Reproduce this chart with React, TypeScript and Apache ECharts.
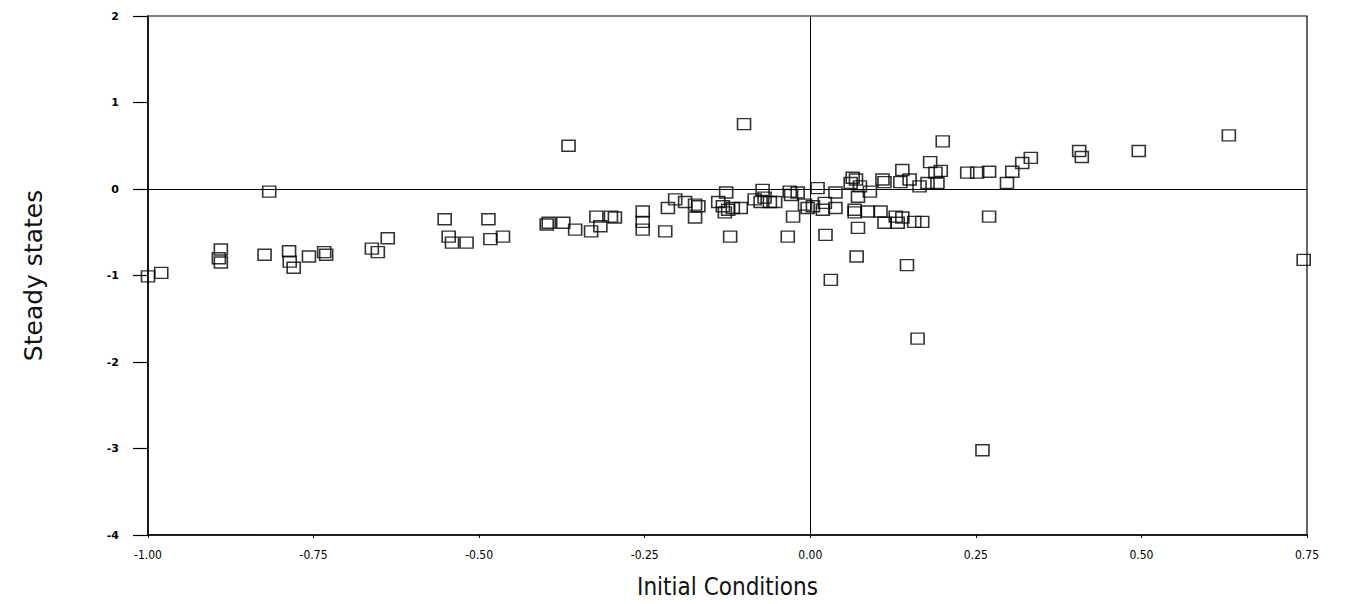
import React, { useEffect, useRef } from "react";
import * as echarts from "echarts";

const xTicks = [-1.0, -0.75, -0.5, -0.25, 0.0, 0.25, 0.5, 0.75];
const yTicks = [-4, -3, -2, -1, 0, 1, 2];

const initialConditions = [
  -1.0, -0.98, -0.89, -0.893, -0.89, -0.817, -0.824, -0.787, -0.786, -0.78,
  -0.757, -0.734, -0.731, -0.662, -0.653, -0.638, -0.552, -0.546, -0.541, -0.519,
  -0.486, -0.483, -0.464, -0.365, -0.398, -0.395, -0.373, -0.355, -0.331, -0.323,
  -0.317, -0.301, -0.295, -0.253, -0.253, -0.253, -0.219, -0.215, -0.204, -0.189,
  -0.174, -0.174, -0.1, -0.169, -0.127, -0.139, -0.132, -0.124, -0.129, -0.117,
  -0.105, -0.084, -0.072, -0.069, -0.075, -0.061, -0.053, -0.031, -0.029, -0.019,
  -0.026, -0.008, -0.004, 0.004, 0.011, -0.121, -0.034, 0.023, 0.022, 0.019,
  0.038, 0.038, 0.064, 0.061, 0.069, 0.075, 0.09, 0.072, 0.109, 0.112,
  0.139, 0.136, 0.15, 0.165, 0.177, 0.181, 0.189, 0.192, 0.2, 0.197,
  0.067, 0.067, 0.087, 0.106, 0.112, 0.129, 0.139, 0.132, 0.157, 0.169,
  0.072, 0.07, 0.031, 0.146, 0.162, 0.26, 0.237, 0.252, 0.27, 0.27,
  0.297, 0.305, 0.32, 0.333, 0.406, 0.41, 0.496, 0.632, 0.745,
];

const steadyStates = [
  -1.01, -0.97, -0.7, -0.8, -0.85, -0.03, -0.76, -0.72, -0.84, -0.91,
  -0.78, -0.73, -0.76, -0.69, -0.73, -0.57, -0.35, -0.55, -0.62, -0.62,
  -0.35, -0.58, -0.55, 0.5, -0.41, -0.39, -0.39, -0.47, -0.49, -0.32,
  -0.43, -0.32, -0.33, -0.26, -0.38, -0.47, -0.49, -0.22, -0.12, -0.15,
  -0.18, -0.33, 0.75, -0.2, -0.04, -0.15, -0.2, -0.24, -0.27, -0.22,
  -0.22, -0.12, -0.01, -0.1, -0.15, -0.15, -0.15, -0.03, -0.07, -0.04,
  -0.32, -0.18, -0.22, -0.2, 0.01, -0.55, -0.55, -0.53, -0.16, -0.24,
  -0.04, -0.22, 0.13, 0.07, 0.11, 0.03, -0.03, -0.09, 0.11, 0.08,
  0.22, 0.08, 0.11, 0.03, 0.07, 0.31, 0.19, 0.07, 0.55, 0.21,
  -0.24, -0.27, -0.26, -0.26, -0.39, -0.32, -0.33, -0.39, -0.38, -0.38,
  -0.45, -0.78, -1.05, -0.88, -1.73, -3.02, 0.19, 0.19, 0.2, -0.32,
  0.07, 0.2, 0.3, 0.36, 0.44, 0.37, 0.44, 0.62, -0.82,
];

export default function App() {
  const ref = useRef<HTMLDivElement>(null);
  useEffect(() => {
    if (!ref.current) return;
    const chart = echarts.init(ref.current, null, { renderer: "svg" });
    const data = initialConditions.map((x, i) => [x, steadyStates[i]]);
    chart.setOption({
      animation: false,
      backgroundColor: "#ffffff",
      grid: {
        left: 148,
        right: 38,
        top: 16,
        bottom: 68,
        show: true,
        borderColor: "#000",
        borderWidth: 1.2,
        backgroundColor: "transparent",
      },
      xAxis: {
        type: "value",
        min: xTicks[0],
        max: xTicks[xTicks.length - 1],
        interval: 0.25,
        name: "Initial Conditions",
        nameLocation: "middle",
        nameGap: 40,
        nameTextStyle: {
          fontFamily: "DejaVu Sans Condensed, DejaVu Sans",
          fontSize: 24,
          fontWeight: "normal",
          color: "#111",
        },
        axisLine: { show: true, onZero: false, lineStyle: { color: "#000", width: 1.5 } },
        axisTick: { show: true, length: 3, lineStyle: { color: "#000" } },
        splitLine: { show: false },
        axisLabel: {
          color: "#000",
          fontFamily: "DejaVu Sans Condensed, DejaVu Sans",
          fontSize: 12,
          margin: 14,
          formatter: (v: number) => v.toFixed(2),
        },
      },
      yAxis: {
        type: "value",
        min: yTicks[0],
        max: yTicks[yTicks.length - 1],
        interval: 1,
        name: "Steady states",
        nameLocation: "middle",
        nameGap: 102,
        nameTextStyle: {
          fontFamily: "DejaVu Sans",
          fontSize: 25,
          fontWeight: "normal",
          color: "#111",
        },
        axisLine: { show: true, onZero: false, lineStyle: { color: "#000", width: 1.5 } },
        axisTick: { show: true, length: 15, lineStyle: { color: "#000", width: 1.2 } },
        splitLine: { show: false },
        axisLabel: {
          color: "#000",
          fontFamily: "DejaVu Sans",
          fontWeight: "bold",
          fontSize: 11,
          margin: 29,
        },
      },
      series: [
        {
          type: "scatter",
          data,
          symbol: "rect",
          symbolSize: [13, 11],
          itemStyle: {
            color: "rgba(255,255,255,0)",
            borderColor: "#000",
            borderWidth: 1.5,
          },
          markLine: {
            silent: true,
            symbol: "none",
            label: { show: false },
            lineStyle: { color: "#000", width: 1, type: "solid" },
            data: [{ xAxis: 0 }, { yAxis: 0 }],
          },
        },
      ],
    });
    return () => chart.dispose();
  }, []);
  return (
    <div
      ref={ref}
      style={{ position: "fixed", left: 0, top: 0, width: 1345, height: 604 }}
    />
  );
}
